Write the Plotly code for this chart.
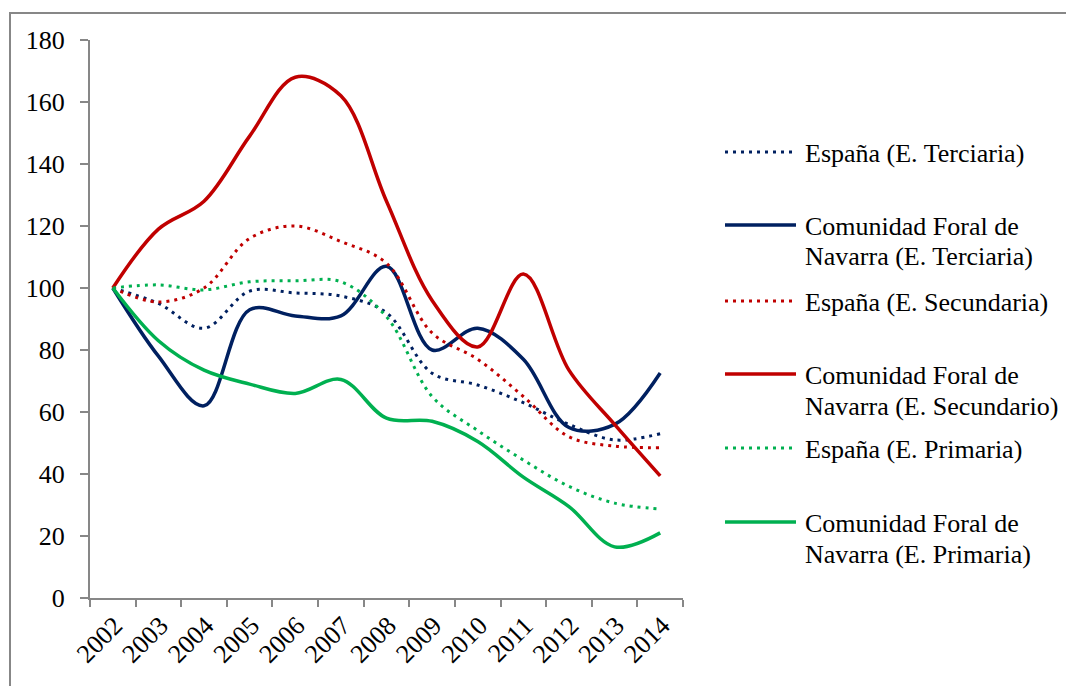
import plotly.graph_objects as go

years = [str(y) for y in range(2002, 2015)]

esp_terciaria = [100, 95, 87, 99, 98.4, 97.4, 92, 72.5, 68.7, 63, 56, 51, 53]
nav_terciaria = [100, 78, 62, 93, 91, 91, 107, 80, 87, 77, 55, 56, 72.6]
esp_secundaria = [100, 95.5, 100, 116, 120, 115, 108, 85.5, 77, 65, 52, 49, 48.5]
nav_secundaria = [100, 119, 128, 149, 168, 162, 128, 96, 81, 104.5, 73.5, 56, 39.4]
esp_primaria = [100, 101, 99.4, 102, 102.3, 102, 90.7, 65, 54, 44.5, 36, 30.6, 28.7]
nav_primaria = [100, 83, 73.5, 69, 66, 70.5, 58, 57, 50.5, 39, 29.5, 16.5, 21]

NAVY = "#002060"
RED = "#C00000"
GREEN = "#00B050"
GRAY = "#878787"
FONT = "Liberation Serif, Times New Roman, serif"

series = [
    (["España (E. Terciaria)"], esp_terciaria, NAVY, "dot"),
    (["Comunidad Foral de", "Navarra (E. Terciaria)"], nav_terciaria, NAVY, "solid"),
    (["España (E. Secundaria)"], esp_secundaria, RED, "dot"),
    (["Comunidad Foral de", "Navarra (E. Secundario)"], nav_secundaria, RED, "solid"),
    (["España (E. Primaria)"], esp_primaria, GREEN, "dot"),
    (["Comunidad Foral de", "Navarra (E. Primaria)"], nav_primaria, GREEN, "solid"),
]

OFF = 8  # page body margin
W, H = 1074 - OFF, 686 - OFF
L, R, T, B = 90 - OFF, 683 - OFF, 40 - OFF, 598 - OFF


def px(x):
    return (x - OFF - L) / (R - L)


def py(y):
    return (B - (y - OFF)) / (B - T)


fig = go.Figure()
for name, vals, col, dash in series:
    fig.add_trace(go.Scatter(
        x=years, y=vals, mode="lines", name=" ".join(name),
        line=dict(color=col, width=3 if dash == "dot" else 3.5,
                  dash="3px,5px" if dash == "dot" else "solid",
                  shape="spline", smoothing=1.0),
        showlegend=False,
    ))

shapes = []
annotations = []
# outer chart border
shapes.append(dict(type="rect", xref="paper", yref="paper",
                   x0=px(10), x1=px(1090), y0=py(700), y1=py(13),
                   line=dict(color=GRAY, width=2), fillcolor="rgba(0,0,0,0)",
                   layer="below"))

# manual legend
sym_y = [152, 225, 301, 374, 448, 522]
for (name, vals, col, dash), yy in zip(series, sym_y):
    shapes.append(dict(type="line", xref="paper", yref="paper",
                       x0=px(725), x1=px(796), y0=py(yy), y1=py(yy),
                       line=dict(color=col, width=3 if dash == "dot" else 3.5,
                                 dash="3px,5px" if dash == "dot" else "solid")))
    for i, line in enumerate(name):
        annotations.append(dict(xref="paper", yref="paper", x=px(803),
                                y=py(yy + 1 + 31 * i), text=line,
                                showarrow=False, xanchor="left", yanchor="middle",
                                font=dict(family=FONT, size=26, color="black")))

fig.update_layout(
    width=W, height=H,
    margin=dict(l=L, r=W - R, t=T, b=H - B, autoexpand=False),
    paper_bgcolor="white", plot_bgcolor="white",
    shapes=shapes, annotations=annotations,
    showlegend=False,
    font=dict(family=FONT, size=26, color="black"),
)
fig.update_xaxes(type="category", range=[-0.5, 12.5], tickson="boundaries",
                 ticks="outside", ticklen=7, tickwidth=2, tickcolor=GRAY,
                 showline=True, linecolor=GRAY, linewidth=2,
                 showgrid=False, tickangle=-45, automargin=False,
                 ticklabelshift=2,
                 tickfont=dict(family=FONT, size=26, color="black"))
fig.update_yaxes(range=[0, 180], dtick=20, ticks="outside", ticklen=8,
                 tickwidth=2, tickcolor=GRAY, showline=True, linecolor=GRAY,
                 linewidth=2, showgrid=False, zeroline=False, automargin=False,
                 ticklabelstandoff=10,
                 tickfont=dict(family=FONT, size=26, color="black"))

fig.write_html("out.html")
